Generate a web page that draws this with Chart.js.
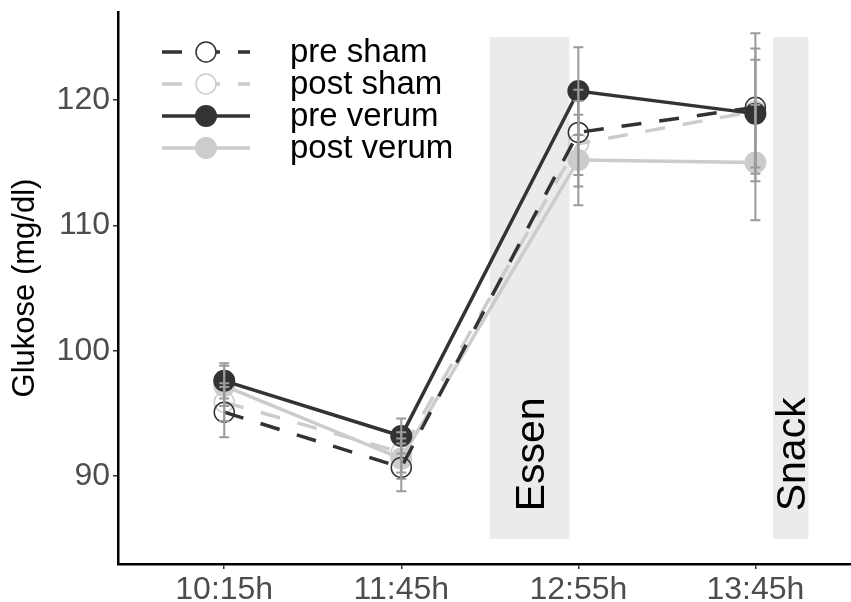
<!DOCTYPE html>
<html>
<head>
<meta charset="utf-8">
<script src="https://cdn.jsdelivr.net/npm/chart.js@4"></script>
<style>
  html, body { margin: 0; padding: 0; background: #fff; overflow: hidden; }
  #wrap { position: absolute; left: 0; top: 0; width: 851px; height: 602px; }
  #grafico { display: block; }
</style>
</head>
<body>
<div id="wrap"><canvas id="grafico"></canvas></div>
<script>
// Messzeitpunkte
const timeLabels = ['10:15h', '11:45h', '12:55h', '13:45h'];
const yTicks = [90, 100, 110, 120];

// Mittelwerte Glukose (mg/dl)
const preSham = [95.1, 90.7, 117.4, 119.4];
const postSham = [95.9, 91.9, 116.5, 119.1];
const preVerum = [97.6, 93.2, 120.7, 118.9];
const postVerum = [97.2, 91.4, 115.2, 115.0];

// Fehlerbalken (+/-)
const preShamErr = [2.0, 1.9, 3.4, 5.9];
const postShamErr = [1.5, 1.6, 3.4, 5.0];
const preVerumErr = [1.4, 1.4, 3.5, 4.3];
const postVerumErr = [1.6, 1.6, 3.6, 4.6];

// Mahlzeiten (grau hinterlegt)
const mealNames = ['Essen', 'Snack'];
const mealStart = [1.5, 3.1];
const mealEnd = [1.95, 3.3];
const mealLow = 85;
const mealHigh = 125;
const mealTextY = 87.2;

const seriesNames = ['pre sham', 'post sham', 'pre verum', 'post verum'];
const seriesValues = [preSham, postSham, preVerum, postVerum];
const seriesErrors = [preShamErr, postShamErr, preVerumErr, postVerumErr];

const FONT = "'Liberation Sans', Arial, sans-serif";
const DARK = '#333333';
const LIGHT = '#cccccc';

function makeSet(i, color, dashed, filled, order) {
  return {
    label: seriesNames[i],
    data: seriesValues[i].map((v, k) => ({ x: k, y: v })),
    borderColor: color,
    borderWidth: 3.5,
    borderDash: dashed ? [20, 18] : [],
    pointRadius: filled ? 11 : 10,
    pointBorderWidth: filled ? 0 : 1.5,
    pointBackgroundColor: filled ? color : 'rgba(0,0,0,0)',
    pointBorderColor: color,
    tension: 0,
    fill: false,
    order: order
  };
}

const datasets = [
  makeSet(0, DARK, true, false, 1),
  makeSet(1, LIGHT, true, false, 2),
  makeSet(2, DARK, false, true, 0),
  makeSet(3, LIGHT, false, true, 3)
];

const mealBands = {
  id: 'mealBands',
  beforeDatasetsDraw(chart) {
    const { ctx, scales: { x, y } } = chart;
    ctx.save();
    mealNames.forEach((name, i) => {
      const x0 = x.getPixelForValue(mealStart[i]);
      const x1 = x.getPixelForValue(mealEnd[i]);
      const y0 = y.getPixelForValue(mealHigh);
      const y1 = y.getPixelForValue(mealLow);
      ctx.fillStyle = '#ebebeb';
      ctx.fillRect(x0, y0, x1 - x0, y1 - y0);

      const size = 41;
      ctx.save();
      ctx.translate((x0 + x1) / 2 + size * 0.358, y.getPixelForValue(mealTextY));
      ctx.rotate(-Math.PI / 2);
      ctx.font = size + 'px ' + FONT;
      ctx.fillStyle = '#000';
      ctx.textAlign = 'left';
      ctx.textBaseline = 'alphabetic';
      ctx.fillText(name, 0, 0);
      ctx.restore();
    });
    ctx.restore();
  }
};

const errorBars = {
  id: 'errorBars',
  afterDatasetsDraw(chart) {
    const { ctx, scales: { x, y } } = chart;
    ctx.save();
    ctx.strokeStyle = '#9a9a9a';
    ctx.lineWidth = 2;
    seriesValues.forEach((vals, s) => {
      vals.forEach((v, k) => {
        const px = x.getPixelForValue(k);
        const top = y.getPixelForValue(v + seriesErrors[s][k]);
        const bot = y.getPixelForValue(v - seriesErrors[s][k]);
        ctx.beginPath();
        ctx.moveTo(px, top); ctx.lineTo(px, bot);
        ctx.moveTo(px - 5, top); ctx.lineTo(px + 5, top);
        ctx.moveTo(px - 5, bot); ctx.lineTo(px + 5, bot);
        ctx.stroke();
      });
    });
    ctx.restore();
  }
};

// Legende oben links, wie bei ggplot
const keyLegend = {
  id: 'keyLegend',
  afterDraw(chart) {
    const ctx = chart.ctx;
    const x0 = 162, x1 = 250, xc = 206, xt = 290;
    ctx.save();
    seriesNames.forEach((name, i) => {
      const ds = chart.data.datasets[i];
      const yy = 52 + i * 32;
      ctx.strokeStyle = ds.borderColor;
      ctx.lineWidth = ds.borderWidth;
      ctx.setLineDash(ds.borderDash);
      ctx.beginPath();
      ctx.moveTo(x0, yy); ctx.lineTo(x1, yy);
      ctx.stroke();
      ctx.setLineDash([]);
      ctx.beginPath();
      ctx.arc(xc, yy, ds.pointRadius, 0, Math.PI * 2);
      if (ds.pointBorderWidth > 0) {
        ctx.fillStyle = '#fff';
        ctx.fill();
        ctx.lineWidth = ds.pointBorderWidth;
        ctx.strokeStyle = ds.pointBorderColor;
        ctx.stroke();
      } else {
        ctx.fillStyle = ds.pointBackgroundColor;
        ctx.fill();
      }
      ctx.font = '33px ' + FONT;
      ctx.fillStyle = '#000';
      ctx.textAlign = 'left';
      ctx.textBaseline = 'middle';
      ctx.fillText(name, xt, yy + 1);
    });
    ctx.restore();
  }
};

new Chart(document.getElementById('grafico'), {
  type: 'line',
  data: { datasets: datasets },
  options: {
    responsive: true,
    maintainAspectRatio: false,
    animation: false,
    layout: { autoPadding: false, padding: { top: 12, left: 0, right: 0, bottom: 0 } },
    plugins: {
      legend: { display: false },
      tooltip: { enabled: false }
    },
    scales: {
      x: {
        type: 'linear',
        min: -0.6,
        max: 3.54,
        afterBuildTicks: s => { s.ticks = timeLabels.map((_, k) => ({ value: k })); },
        afterFit: s => { s.height = 38; s.paddingLeft = 0; s.paddingRight = 0; },
        ticks: {
          callback: v => timeLabels[v],
          color: '#4d4d4d',
          font: { family: FONT, size: 32 },
          padding: 2,
          maxRotation: 0,
          autoSkip: false
        },
        grid: { drawOnChartArea: false, drawTicks: true, tickLength: 5, color: '#333', lineWidth: 1.5 },
        border: { color: '#000', width: 2.5 }
      },
      y: {
        min: 83,
        max: 127,
        afterBuildTicks: s => { s.ticks = yTicks.map(v => ({ value: v })); },
        afterFit: s => { s.width = 118; s.paddingTop = 0; s.paddingBottom = 0; },
        ticks: {
          color: '#4d4d4d',
          font: { family: FONT, size: 32 },
          padding: 3
        },
        grid: { drawOnChartArea: false, drawTicks: true, tickLength: 5, color: '#333', lineWidth: 1.5 },
        border: { color: '#000', width: 2.5 },
        title: {
          display: true,
          text: 'Glukose (mg/dl)',
          color: '#000',
          font: { family: FONT, size: 31 },
          padding: { top: 7, bottom: 0 }
        }
      }
    }
  },
  plugins: [mealBands, errorBars, keyLegend]
});
</script>
</body>
</html>
